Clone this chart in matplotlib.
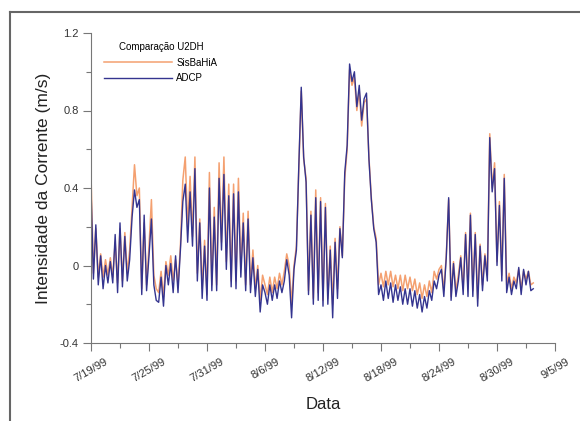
import matplotlib
matplotlib.use("Agg")
import matplotlib.pyplot as plt
from matplotlib.lines import Line2D
import pandas as pd

plt.rcParams['font.family'] = ['Liberation Sans', 'DejaVu Sans']

# Values every 6 hours starting 7/19/99 00:00 (4 per day)
sisbahia = [
    0.47, -0.04, 0.19, -0.06,   # 7/19
    0.06, -0.06, 0.03, -0.05,
    0.04, -0.06, 0.12, -0.09,
    0.19, -0.08, 0.17, -0.04,
    0.08, 0.30, 0.52, 0.36,
    0.40, -0.12, 0.22, -0.10,
    0.10, 0.34, -0.05, -0.12,   # 7/25
    -0.14, -0.03, -0.16, 0.02,
    -0.05, 0.05, -0.08, 0.03,
    -0.10, 0.10, 0.44, 0.56,
    0.20, 0.46, 0.15, 0.56,
    -0.04, 0.24, -0.12, 0.13,
    -0.15, 0.48, -0.10, 0.30,   # 7/31
    -0.10, 0.53, 0.12, 0.56,
    0.02, 0.42, -0.08, 0.42,
    -0.08, 0.45, -0.02, 0.27,
    -0.10, 0.28, -0.10, 0.08,
    -0.12, 0.00, -0.18, -0.05,
    -0.10, -0.15, -0.06, -0.14,  # 8/6
    -0.06, -0.12, -0.04, -0.10,
    -0.03, 0.06, 0.00, -0.20,
    0.00, 0.10, 0.50, 0.90,
    0.55, 0.45, -0.13, 0.28,
    -0.17, 0.39, -0.14, 0.35,
    -0.18, 0.32, -0.17, 0.10,    # 8/12
    -0.20, 0.14, -0.12, 0.20,
    0.05, 0.45, 0.60, 1.01,
    0.93, 0.97, 0.80, 0.90,
    0.72, 0.84, 0.86, 0.56,
    0.35, 0.20, 0.14, -0.10,
    -0.04, -0.11, -0.03, -0.10,  # 8/18
    -0.03, -0.11, -0.05, -0.12,
    -0.05, -0.13, -0.05, -0.12,
    -0.06, -0.13, -0.07, -0.15,
    -0.09, -0.17, -0.10, -0.16,
    -0.08, -0.14, -0.03, -0.07,
    -0.02, 0.00, -0.13, 0.05,    # 8/24
    0.34, -0.16, 0.02, -0.13,
    -0.05, 0.05, -0.12, 0.17,
    -0.12, 0.27, -0.13, 0.17,
    -0.17, 0.11, -0.10, 0.06,
    -0.05, 0.68, 0.40, 0.53,
    0.02, 0.33, -0.05, 0.47,     # 8/30
    -0.10, -0.04, -0.12, -0.06,
    -0.09, -0.02, -0.12, -0.03,
    -0.07, -0.03, -0.10, -0.09,
]

adcp = [
    0.40, -0.07, 0.21, -0.10,
    0.05, -0.12, 0.00, -0.09,
    0.02, -0.09, 0.16, -0.14,
    0.22, -0.11, 0.15, -0.08,
    0.03, 0.25, 0.39, 0.30,
    0.34, -0.15, 0.26, -0.13,
    0.05, 0.24, -0.10, -0.18,
    -0.19, -0.06, -0.21, 0.00,
    -0.10, 0.01, -0.14, 0.05,
    -0.14, 0.08, 0.33, 0.42,
    0.12, 0.38, 0.10, 0.50,
    -0.08, 0.22, -0.17, 0.10,
    -0.18, 0.40, -0.13, 0.25,
    -0.13, 0.45, 0.08, 0.47,
    -0.02, 0.36, -0.11, 0.37,
    -0.12, 0.38, -0.06, 0.22,
    -0.13, 0.24, -0.14, 0.04,
    -0.16, -0.02, -0.24, -0.10,
    -0.14, -0.20, -0.10, -0.18,
    -0.10, -0.17, -0.08, -0.14,
    -0.08, 0.03, -0.05, -0.27,
    -0.02, 0.08, 0.52, 0.92,
    0.56, 0.43, -0.15, 0.26,
    -0.20, 0.35, -0.18, 0.33,
    -0.21, 0.30, -0.20, 0.08,
    -0.27, 0.12, -0.17, 0.19,
    0.04, 0.48, 0.62, 1.04,
    0.95, 1.00, 0.82, 0.93,
    0.75, 0.86, 0.89, 0.55,
    0.34, 0.19, 0.12, -0.15,
    -0.10, -0.18, -0.08, -0.17,
    -0.09, -0.19, -0.10, -0.18,
    -0.11, -0.20, -0.12, -0.20,
    -0.12, -0.21, -0.13, -0.22,
    -0.15, -0.24, -0.16, -0.22,
    -0.13, -0.18, -0.08, -0.12,
    -0.05, -0.02, -0.16, 0.04,
    0.35, -0.18, 0.01, -0.16,
    -0.08, 0.04, -0.15, 0.16,
    -0.16, 0.26, -0.16, 0.16,
    -0.21, 0.10, -0.13, 0.05,
    -0.08, 0.66, 0.38, 0.50,
    0.00, 0.31, -0.08, 0.45,
    -0.14, -0.06, -0.15, -0.08,
    -0.12, -0.01, -0.15, -0.02,
    -0.10, -0.03, -0.13, -0.12,
]

start_date = "1999-07-19"
xtick_dates = ["1999-07-19", "1999-07-25", "1999-07-31", "1999-08-06", "1999-08-12",
               "1999-08-18", "1999-08-24", "1999-08-30", "1999-09-05"]
xtick_labels = ["7/19/99", "7/25/99", "7/31/99", "8/6/99", "8/12/99",
                "8/18/99", "8/24/99", "8/30/99", "9/5/99"]
ytick_values = [-0.4, 0, 0.4, 0.8, 1.2]
ytick_labels = ["-0.4", "0", "0.4", "0.8", "1.2"]

times = pd.date_range(start_date, periods=len(sisbahia), freq="6h")

fig = plt.figure(figsize=(5.8, 4.21), dpi=100)
ax = fig.add_axes([91/580, 1-343/421, (555-91)/580, (343-33)/421])

orange = "#f4a070"
blue = "#34348f"
ax.plot(times, sisbahia, color=orange, lw=1.1, label="SisBaHiA")
ax.plot(times, adcp, color=blue, lw=1.0, label="ADCP")

xt = pd.to_datetime(xtick_dates)
ax.set_xlim(xt[0], xt[-1])
ax.set_ylim(-0.4, 1.2)
ax.set_xticks(xt)
ax.set_xticklabels(xtick_labels, rotation=30, ha="center", fontsize=8, color="#333333")
minor = [xt[i] + (xt[i+1]-xt[i])/2 for i in range(len(xt)-1)]
ax.set_xticks(minor, minor=True)
ax.set_yticks(ytick_values)
ax.set_yticklabels(ytick_labels, fontsize=8, color="#333333")
ax.set_yticks([-0.2, 0.2, 0.6, 1.0], minor=True)

for s in ["top", "right"]:
    ax.spines[s].set_visible(False)
for s in ["left", "bottom"]:
    ax.spines[s].set_color("#777777")
    ax.spines[s].set_linewidth(0.8)
ax.tick_params(which="major", length=6, width=0.8, color="#777777", pad=3)
ax.tick_params(axis="x", which="major", pad=4)
ax.tick_params(which="minor", length=3.5, width=0.8, color="#777777")

ax.set_xlabel("Data", fontsize=12, color="#222222", labelpad=9)
ax.set_ylabel("Intensidade da Corrente (m/s)", fontsize=12.5, color="#222222", labelpad=6)

leg = ax.legend(title="Comparação U2DH", loc="upper left", bbox_to_anchor=(0.01, 1.0),
                frameon=False, fontsize=7, title_fontsize=7, handlelength=7,
                labelspacing=0.6, handletextpad=0.4)

fig.add_artist(Line2D([10/580, 10/580], [0, 1-12/421], color="#666666", lw=1.5,
                      transform=fig.transFigure))
fig.add_artist(Line2D([10/580, 1], [1-12/421, 1-12/421], color="#666666", lw=1.5,
                      transform=fig.transFigure))

fig.savefig("out.png", dpi=100)
